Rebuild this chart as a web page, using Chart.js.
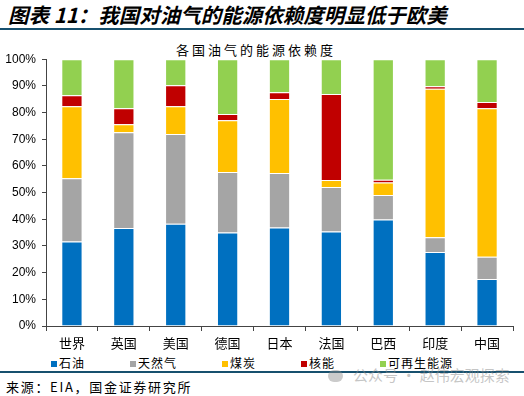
<!DOCTYPE html>
<html>
<head>
<meta charset="utf-8">
<script src="https://cdn.jsdelivr.net/npm/chart.js@4/dist/chart.umd.min.js"></script>
<style>
  body { margin: 0; width: 524px; height: 396px; background: #fff; position: relative; overflow: hidden; font-family: "Noto Sans CJK SC", sans-serif; }
  #title { position: absolute; left: 8px; top: 1px; font-size: 20.5px; line-height: 26px; font-weight: bold; font-style: italic; color: #000; white-space: nowrap; }
  .rule { position: absolute; left: 0; width: 524px; height: 2px; background: #17506e; }
  #ctitle { position: absolute; left: 0; width: 512px; top: 41px; line-height: 18px; text-align: center; font-size: 13px; letter-spacing: 3px; color: #000; }
  #wrap { position: absolute; left: 0; top: 46px; width: 524px; height: 308px; }
  #legend { position: absolute; left: 51px; top: 355px; display: flex; gap: 45px; font-size: 12px; line-height: 15px; letter-spacing: 1px; color: #000; white-space: nowrap; }
  #legend span.box { display: inline-block; width: 6px; height: 6px; margin-right: 2px; vertical-align: 1px; }
  #source { position: absolute; left: 6px; top: 378px; font-size: 13px; line-height: 17px; color: #000; letter-spacing: 1.7px; white-space: nowrap; }
  #mark { position: absolute; left: 328px; top: 366px; font-size: 15px; line-height: 18px; color: rgba(140,140,140,0.5); white-space: nowrap; }
  #mark i { display: inline-block; width: 15px; height: 12px; border-radius: 7px; background: rgba(140,140,140,0.45); margin-right: 10px; vertical-align: -1px; }
</style>
</head>
<body>
<div id="title">图表 11：我国对油气的能源依赖度明显低于欧美</div>
<div class="rule" style="top:28px"></div>
<div id="ctitle">各国油气的能源依赖度</div>
<div id="wrap"><canvas id="chart"></canvas></div>
<div id="legend"></div>
<div class="rule" style="top:371px"></div>
<div id="source">来源：EIA，国金证券研究所</div>
<div id="mark"><i></i>公众号 · 赵伟宏观探索</div>
<script>
const categories = ['世界', '英国', '美国', '德国', '日本', '法国', '巴西', '印度', '中国'];
const oil = [31.7, 36.7, 38.3, 35.0, 36.9, 35.4, 39.9, 27.7, 17.6];
const gas = [23.7, 35.9, 33.7, 22.7, 20.4, 16.7, 9.2, 5.6, 8.4];
const coal = [27.0, 3.0, 10.4, 19.4, 27.8, 2.6, 4.7, 55.6, 55.6];
const nuclear = [4.1, 6.0, 7.8, 2.4, 2.5, 32.3, 1.0, 1.0, 2.4];
const renewable = [13.5, 18.4, 9.8, 20.5, 12.4, 13.0, 45.2, 10.1, 16.0];
const yTicks = [0, 10, 20, 30, 40, 50, 60, 70, 80, 90, 100];

const cjk = '"Noto Sans CJK SC", sans-serif';

const datasets = [
  { label: '石油', data: oil, backgroundColor: '#0070c0' },
  { label: '天然气', data: gas, backgroundColor: '#a5a5a5' },
  { label: '煤炭', data: coal, backgroundColor: '#ffc000' },
  { label: '核能', data: nuclear, backgroundColor: '#c00000' },
  { label: '可再生能源', data: renewable, backgroundColor: '#92d050' },
].map((d) => Object.assign(d, {
  borderColor: 'rgba(255,255,255,0.45)',
  borderWidth: 1,
  categoryPercentage: 1,
  barPercentage: 0.41,
}));

const ctx = document.getElementById('chart').getContext('2d');
const chart = new Chart(ctx, {
  type: 'bar',
  data: { labels: categories, datasets: datasets },
  options: {
    responsive: true,
    maintainAspectRatio: false,
    animation: false,
    layout: { padding: { left: 0, right: 11, top: 1, bottom: 0 } },
    plugins: {
      legend: { display: false },
      tooltip: { enabled: false },
    },
    scales: {
      x: {
        stacked: true,
        afterFit: (scale) => { scale.height = 28; },
        grid: { drawOnChartArea: false, drawTicks: true, tickLength: 5, color: '#444' },
        border: { display: true, color: '#444' },
        ticks: { color: '#000', font: { family: cjk, size: 13 }, padding: 4 },
      },
      y: {
        stacked: true,
        min: 0,
        max: 100,
        afterFit: (scale) => { scale.width = 46; },
        afterBuildTicks: (scale) => { scale.ticks = yTicks.map((v) => ({ value: v })); },
        grid: { drawOnChartArea: false, drawTicks: true, tickLength: 4, color: '#444' },
        border: { display: true, color: '#444' },
        ticks: {
          color: '#000',
          font: { family: '"Liberation Sans", Arial, sans-serif', size: 12 },
          padding: 6,
          callback: (v) => v + '%',
        },
      },
    },
  },
});

// legend built from the chart's own datasets
const legend = document.getElementById('legend');
chart.data.datasets.forEach((d) => {
  const item = document.createElement('div');
  const box = document.createElement('span');
  box.className = 'box';
  box.style.background = d.backgroundColor;
  item.appendChild(box);
  item.appendChild(document.createTextNode(d.label));
  legend.appendChild(item);
});
</script>
</body>
</html>
